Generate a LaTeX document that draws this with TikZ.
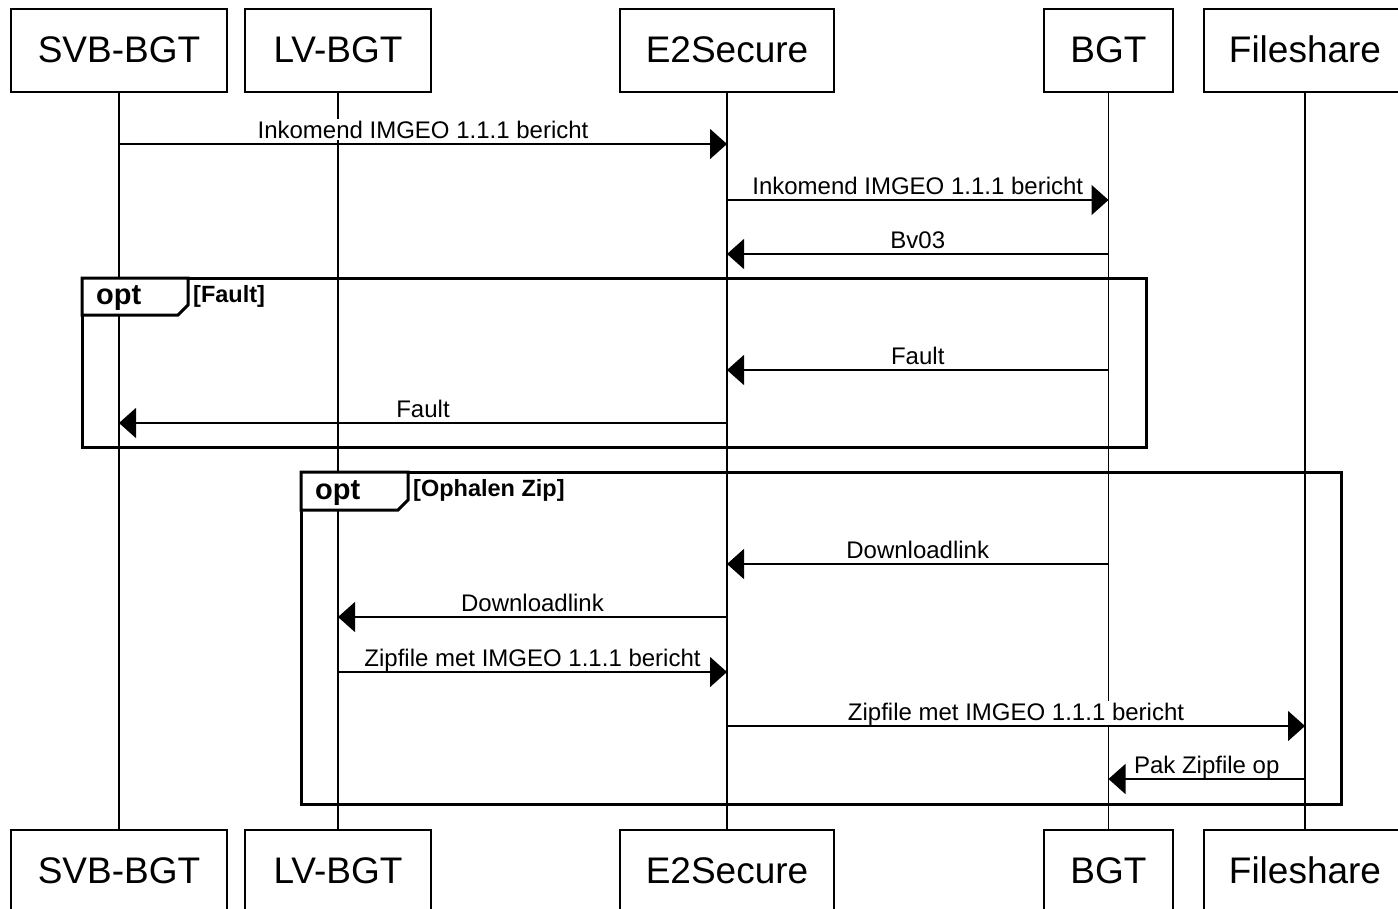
\documentclass[tikz,border=0pt]{standalone}
\usepackage{fontspec}
\setmainfont{Liberation Sans}
\usetikzlibrary{arrows.meta}
\newcommand\seqmsg[4]{%
  \path (#1 |- #3) -- (#2 |- #3) node[midway, lbl] {#4};
  \draw[msg] (#1 |- #3) -- (#2 |- #3);}
\begin{document}
\begin{tikzpicture}[x=1pt,y=-1pt,
  part/.style={draw, line width=1.5pt, minimum height=83pt, inner sep=0pt,
    font=\fontsize{37}{40}\selectfont, text height=27pt, text depth=2pt, anchor=north},
  life/.style={line width=1.2pt},
  msg/.style={line width=1.5pt, -{Triangle[length=17pt,width=30pt]}},
  lbl/.style={font=\fontsize{24}{26}\selectfont, fill=white, inner xsep=1pt,
    inner ysep=2pt, anchor=base, yshift=6pt},
  frm/.style={line width=3pt},
  tab/.style={line width=3pt, fill=white, line join=miter},
  optlbl/.style={font=\fontsize{29}{32}\selectfont\bfseries, anchor=base west, inner sep=0pt},
  condlbl/.style={font=\fontsize{23.5}{26}\selectfont\bfseries, anchor=base west, inner sep=0pt}
]
\useasboundingbox (0,0) rectangle (1398,908);

% participants (top)
\node[part, minimum width=216pt] (svbT) at (119,8) {SVB-BGT};
\node[part, minimum width=186pt] (lvT) at (338,8) {LV-BGT};
\node[part, minimum width=214pt] (e2T) at (727,8) {E2Secure};
\node[part, minimum width=129pt] (bgtT) at (1108.5,8) {BGT};
\node[part, minimum width=202pt] (fsT) at (1305,8) {Fileshare};
% participants (bottom)
\node[part, minimum width=216pt] (svbB) at (119,829) {SVB-BGT};
\node[part, minimum width=186pt] (lvB) at (338,829) {LV-BGT};
\node[part, minimum width=214pt] (e2B) at (727,829) {E2Secure};
\node[part, minimum width=129pt] (bgtB) at (1108.5,829) {BGT};
\node[part, minimum width=202pt] (fsB) at (1305,829) {Fileshare};

% lifelines
\draw[life] (svbT.south) -- (svbB.north);
\draw[life] (lvT.south) -- (lvB.north);
\draw[life] (e2T.south) -- (e2B.north);
\draw[life] (bgtT.south) -- (bgtB.north);
\draw[life] (fsT.south) -- (fsB.north);

% frames
\draw[frm] (82,278) rectangle (1146,447);
\draw[tab] (82,278) -- (188,278) -- (188,305) -- (178,315) -- (82,315) -- cycle;
\node[optlbl] (opt1) at (96,304) {opt};
\node[condlbl] (cond1) at (193,302) {[Fault]};

\draw[frm] (301,472) rectangle (1341,804);
\draw[tab] (301,472) -- (408,472) -- (408,500) -- (398,510) -- (301,510) -- cycle;
\node[optlbl] (opt2) at (315,499) {opt};
\node[condlbl] (cond2) at (413,496) {[Ophalen Zip]};

% message levels
\coordinate (m1) at (0,144);
\coordinate (m2) at (0,200);
\coordinate (m3) at (0,254);
\coordinate (m4) at (0,370);
\coordinate (m5) at (0,423);
\coordinate (m6) at (0,564);
\coordinate (m7) at (0,617);
\coordinate (m8) at (0,672);
\coordinate (m9) at (0,726);
\coordinate (m10) at (0,779);

\seqmsg{svbT}{e2T}{m1}{Inkomend IMGEO 1.1.1 bericht}
\seqmsg{e2T}{bgtT}{m2}{Inkomend IMGEO 1.1.1 bericht}
\seqmsg{bgtT}{e2T}{m3}{Bv03}
\seqmsg{bgtT}{e2T}{m4}{Fault}
\seqmsg{e2T}{svbT}{m5}{Fault}
\seqmsg{bgtT}{e2T}{m6}{Downloadlink}
\seqmsg{e2T}{lvT}{m7}{Downloadlink}
\seqmsg{lvT}{e2T}{m8}{Zipfile met IMGEO 1.1.1 bericht}
\seqmsg{e2T}{fsT}{m9}{Zipfile met IMGEO 1.1.1 bericht}
\seqmsg{fsT}{bgtT}{m10}{Pak Zipfile op}
\end{tikzpicture}
\end{document}
